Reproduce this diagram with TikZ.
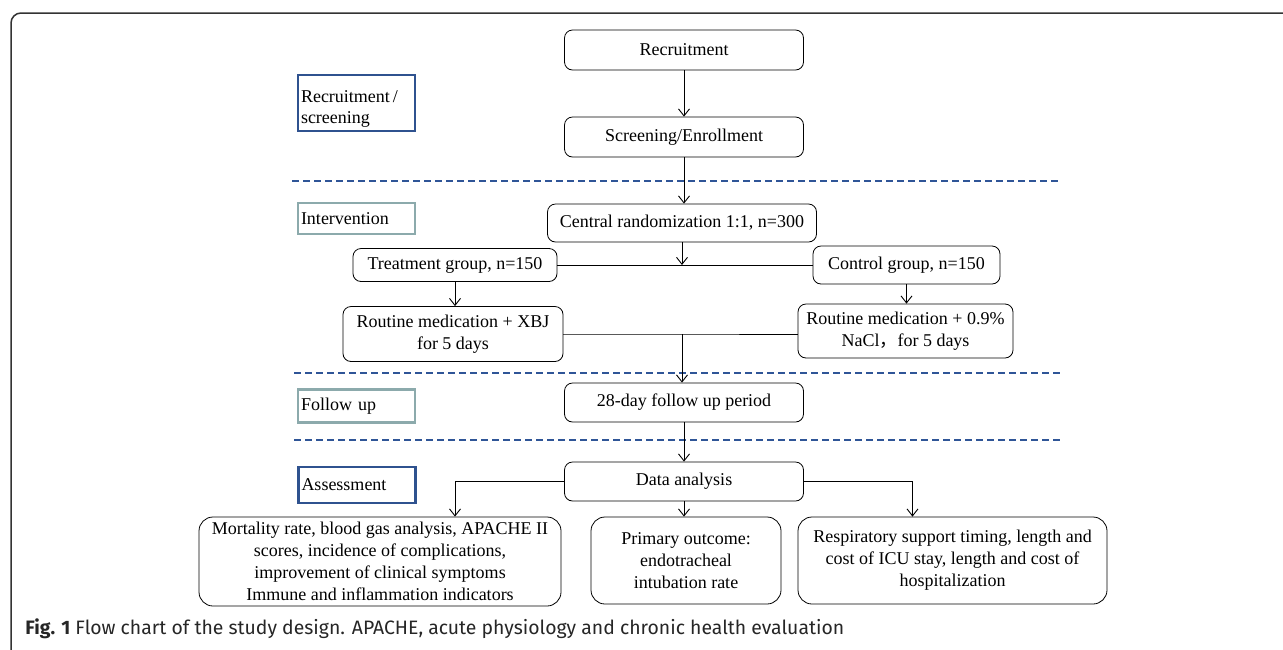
\documentclass[tikz,border=0pt]{standalone}
\usepackage{fontspec}
\setmainfont{Liberation Serif}
\setsansfont{Fira Sans}
\newfontfamily\cjk{Noto Sans CJK SC}
\usetikzlibrary{arrows,arrows.meta,positioning}
\definecolor{stageblue}{RGB}{47,82,143}
\definecolor{stagegray}{RGB}{140,170,172}
\definecolor{sepblue}{RGB}{47,85,151}

\begin{document}
\begin{tikzpicture}[x=1pt,y=-1pt,>={Straight Barb[length=7pt,width=11pt]},line width=0.9pt,
  flowbox/.style={draw,rounded corners=8pt,line width=0.8pt,inner sep=0pt,align=center,
    font=\fontsize{18}{22}\selectfont},
  outbox/.style={flowbox,rounded corners=14pt},
  stagebox/.style={draw=#1,line width=2.5pt,inner xsep=3pt,inner ysep=0pt,text width=111pt,
    align=left,minimum width=117pt,font=\fontsize{18}{21}\selectfont},
  sepline/.style={draw=sepblue,line width=2.5pt,dash pattern=on 7pt off 4pt},
]
\useasboundingbox (0,0) rectangle (1283,649);

\draw[line width=1.5pt,black!80,rounded corners=10pt] (11,660) -- (11,13) -- (1290,13);

\node[stagebox=stageblue,minimum height=56pt] (S1) at (356.5,103) {\rule{0pt}{24pt}Recruitment\,/\\screening};
\node[stagebox=stagegray,minimum height=31pt] (S2) at (356.5,218.5) {Intervention};
\node[stagebox=stagegray,minimum height=33pt] (S3) at (356.5,406) {Follow up};
\node[stagebox=stageblue,minimum height=36pt] (S4) at (357,485) {Assessment};

\draw[sepline] (292,181) -- (1058,181);
\draw[sepline] (294,373) -- (1062,373);
\draw[sepline] (294,440) -- (1060,440);

\node[flowbox,minimum width=239pt,minimum height=40pt] (rec) at (684,50) {Recruitment};
\node[flowbox,minimum width=239pt,minimum height=40pt] (scr) at (684,137) {Screening/Enrollment};
\node[flowbox,minimum width=269pt,minimum height=38pt] (rand) at (682,223) {Central randomization 1:1, n=300};
\node[flowbox,minimum width=204pt,minimum height=33pt] (treat) at (455,265) {Treatment group, n=150};
\node[flowbox,minimum width=187pt,minimum height=38pt] (ctrl) at (906.5,265) {Control group, n=150};
\node[flowbox,minimum width=220pt,minimum height=55pt] (xbj) at (453,334) {Routine medication + XBJ\\for 5 days};
\node[flowbox,minimum width=215pt,minimum height=54pt] (nacl) at (905.5,331) {Routine medication + 0.9\%\\NaCl{\cjk ，}for 5 days};
\node[flowbox,minimum width=239pt,minimum height=39pt] (fup) at (684,402.5) {28-day follow up period};
\node[flowbox,minimum width=239pt,minimum height=39pt] (data) at (684,481.5) {Data analysis};
\node[outbox,minimum width=362pt,minimum height=89pt] (mort) at (380,561.5) {Mortality rate, blood gas analysis, APACHE II\\scores, incidence of complications,\\improvement of clinical symptoms\\Immune and inflammation indicators};
\node[outbox,minimum width=190pt,minimum height=87pt] (prim) at (686,560.5) {Primary outcome:\\endotracheal\\intubation rate};
\node[outbox,minimum width=309pt,minimum height=87pt] (resp) at (952.5,560.5) {Respiratory support timing, length and\\cost of ICU stay, length and cost of\\hospitalization};

\node[anchor=base west,inner sep=0pt,text=black!85,font=\sffamily\fontsize{19.4}{22}\selectfont] (cap) at (25,634)
  {\textbf{Fig. 1} Flow chart of the study design. APACHE, acute physiology and chronic health evaluation};

\coordinate (split) at (rand.south |- treat.east);
\coordinate (merge) at (rand.south |- xbj.east);

\draw[->] (rec) -- (scr);
\draw[->] (scr.south) -- (scr.south |- rand.north);
\draw[->] (rand.south) -- (split);
\draw (treat.east) -- (ctrl.west);
\draw[->] (treat.south) -- (treat.south |- xbj.north);
\draw[->] (ctrl.south) -- (ctrl.south |- nacl.north);
\draw (xbj.east) -- (merge) -- (nacl.west |- merge);
\draw[->] (merge) -- (merge |- fup.north);
\draw[->] (fup) -- (data);
\draw[->] (data.west) -| ([xshift=75pt]mort.north);
\draw[->] (data.south) -- (data.south |- prim.north);
\draw[->] (data.east) -| ([xshift=-40pt]resp.north);

\end{tikzpicture}
\end{document}
